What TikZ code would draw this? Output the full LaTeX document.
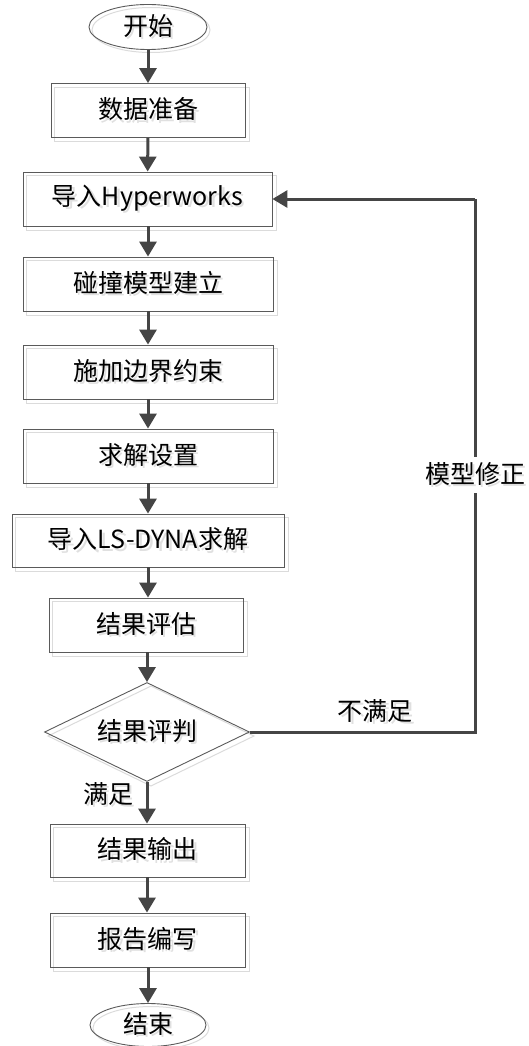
\documentclass[tikz,border=0pt]{standalone}
\usepackage{fontspec}
\setmainfont{Noto Sans CJK SC}
\usetikzlibrary{arrows.meta,shapes.geometric}
\pgfdeclarelayer{bg}
\pgfsetlayers{bg,main}
\definecolor{ln}{HTML}{454545}
\definecolor{bd}{HTML}{5A5A5A}
\newcommand\shtxt[1]{\makebox[0pt][l]{\hspace{2.5pt}\raisebox{-2.5pt}{\color{black!12}#1}}#1}
\tikzset{
  base/.style={font=\fontsize{25pt}{29pt}\selectfont, text=black, inner sep=0pt},
  box/.style={base, draw=bd, line width=0.9pt, rectangle, minimum height=54pt},
  term/.style={base, draw=bd, line width=0.9pt, ellipse, minimum width=118pt, minimum height=45pt},
  decide/.style={base, draw=bd, line width=0.9pt, diamond, aspect=2.07, minimum width=205pt, minimum height=99pt},
  arr/.style={draw=ln, line width=3pt, -{Triangle[width=17pt,length=15pt]}},
  fline/.style={draw=ln, line width=3pt},
  shadowline/.style={draw=black!14, line width=1pt},
  lbl/.style={base}
}
\begin{document}
\begin{tikzpicture}[x=1pt,y=-1pt]
\useasboundingbox (0,0) rectangle (528,1046);
\node[term] (s) at (148,27) {\shtxt{开始}};
\node[box, minimum width=194pt] (b1) at (148,110.5) {\shtxt{数据准备}};
\node[box, minimum width=249pt] (b2) at (147.5,199) {\shtxt{导入Hyperworks}};
\node[box, minimum width=250pt] (b3) at (148,284) {\shtxt{碰撞模型建立}};
\node[box, minimum width=250pt] (b4) at (148,372) {\shtxt{施加边界约束}};
\node[box, minimum width=250pt] (b5) at (148,456) {\shtxt{求解设置}};
\node[box, minimum width=272pt, minimum height=53pt] (b6) at (148,540.5) {\shtxt{导入LS-DYNA求解}};
\node[box, minimum width=194pt] (b7) at (146,625) {\shtxt{结果评估}};
\node[decide] (d) at (147,732) {\shtxt{结果评判}};
\node[box, minimum width=195pt, minimum height=53pt] (b8) at (147.5,850.5) {\shtxt{结果输出}};
\node[box, minimum width=195pt] (b9) at (147.5,940) {\shtxt{报告编写}};
\node[term, minimum width=116pt, minimum height=43pt] (e) at (148,1025) {\shtxt{结束}};

\begin{pgfonlayer}{bg}
\foreach \n in {b1,b2,b3,b4,b5,b6,b7,b8,b9}
  \draw[shadowline] ([shift={(4pt,-4pt)}]\n.north west) rectangle ([shift={(4pt,-4pt)}]\n.south east);
\draw[shadowline] ([shift={(3pt,-3pt)}]s.center) ellipse [x radius=59pt, y radius=22.5pt];
\draw[shadowline] ([shift={(3pt,-3pt)}]e.center) ellipse [x radius=58pt, y radius=21.5pt];
\draw[shadowline] ([shift={(4pt,-4pt)}]d.north) -- ([shift={(4pt,-4pt)}]d.east) -- ([shift={(4pt,-4pt)}]d.south) -- ([shift={(4pt,-4pt)}]d.west) -- cycle;
\end{pgfonlayer}

\draw[arr] (s) -- (b1);
\draw[arr] (b1) -- (b2);
\draw[arr] (b2.south -| b1) -- (b3.north -| b1);
\draw[arr] (b3.south -| b1) -- (b4.north -| b1);
\draw[arr] (b4.south -| b1) -- (b5.north -| b1);
\draw[arr] (b5.south -| b1) -- (b6.north -| b1);
\draw[arr] (b6.south -| b1) -- (b7.north -| b1);
\draw[arr] (b7.south -| d) -- (d.north);
\draw[arr] (d.south) -- (b8.north -| d);
\draw[arr] (b8.south -| d) -- (b9.north -| d);
\draw[arr] (b9.south -| s) -- (e);

\coordinate (c1) at (475,732);
\coordinate (c2) at (475,199);
\draw[fline] (d.east) -- (c1) -- (c2);
\draw[arr] (c2) -- (b2.east);

\node[lbl] (l1) at (375,712) {\shtxt{不满足}};
\node[lbl] (l2) at (108,795) {\shtxt{满足}};
\node[lbl, fill=white, inner ysep=5pt] (l3) at (475,475) {\shtxt{模型修正}};
\end{tikzpicture}
\end{document}
